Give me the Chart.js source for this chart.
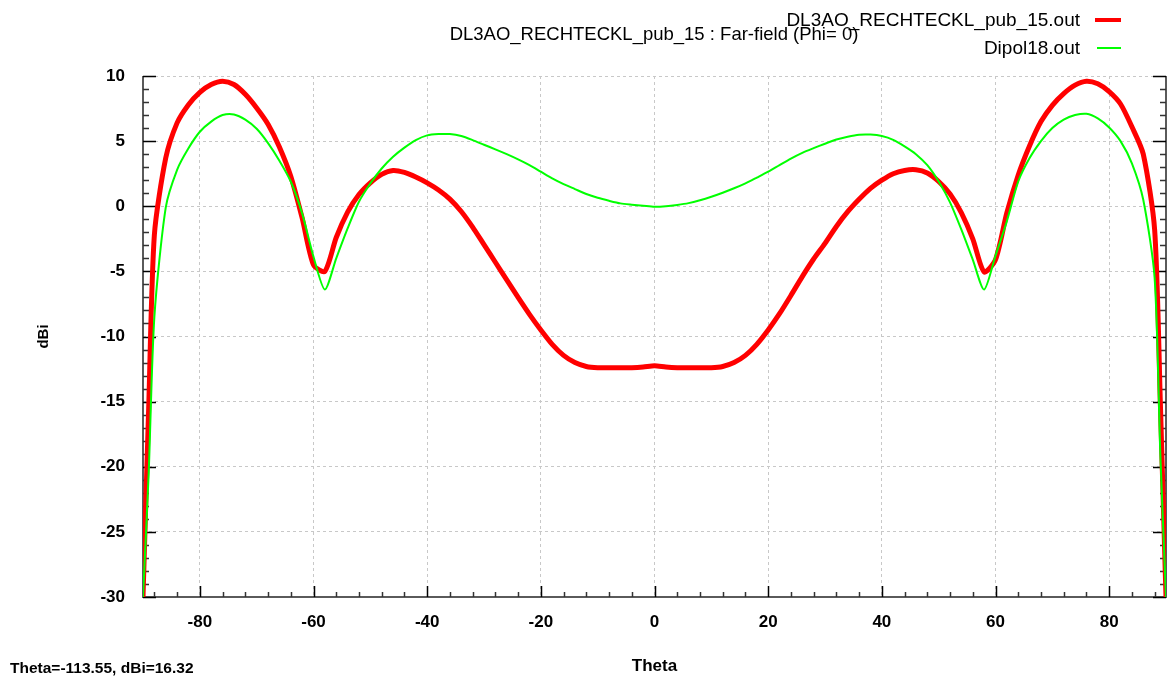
<!DOCTYPE html>
<html>
<head>
<meta charset="utf-8">
<title>Far-field (Phi= 0)</title>
<script src="https://cdn.jsdelivr.net/npm/chart.js@4.4.1/dist/chart.umd.min.js"></script>
<style>
    body { margin: 0; background: #fff; }
    #wrap { position: relative; width: 1167px; height: 677px; font-family: "Liberation Sans", Arial, sans-serif; color: #000; }
    #wrap canvas { position: absolute; left: 0; top: 0; }
    .txt { position: absolute; white-space: nowrap; line-height: 20px; }
    .sample { position: absolute; }
</style>
</head>
<body>
<div id="wrap">
    <canvas id="farfield-chart" width="1167" height="677"></canvas>
    <div class="txt" style="left:654px; top:24px; transform:translateX(-50%); font-size:18.5px;">DL3AO_RECHTECKL_pub_15 : Far-field (Phi= 0)</div>
    <div class="txt" style="right:87px; top:10px; font-size:19px;">DL3AO_RECHTECKL_pub_15.out</div>
    <div class="sample" style="left:1095px; top:18px; width:26px; height:4px; background:#ff0000;"></div>
    <div class="txt" style="right:87px; top:38px; font-size:19px;">Dipol18.out</div>
    <div class="sample" style="left:1097px; top:47px; width:24px; height:2px; background:#00ff00;"></div>
    <div class="txt" style="left:10px; top:658px; font-size:15.5px; font-weight:bold;">Theta=-113.55, dBi=16.32</div>
</div>
<script>
// angles (deg) and gains (dBi)
const theta = [
    -90, -89, -88, -86, -84, -82, -80, -78, -76, -74, -72, -70, -68, -66, -64, -62,
    -60, -58, -56, -54, -52, -50, -48, -46, -44, -42, -40, -38, -36, -34, -32, -30,
    -28, -26, -24, -22, -20, -18, -16, -14, -12, -10, -8, -6, -4, -2, 0,
    2, 4, 6, 8, 10, 12, 14, 16, 18, 20, 22, 24, 26, 28, 30, 32,
    34, 36, 38, 40, 42, 44, 46, 48, 50, 52, 54, 56, 58, 60, 62, 64,
    66, 68, 70, 72, 74, 76, 78, 80, 82, 84, 86, 88, 89, 90
];
const gainRechteck = [
    -30, -15.5, -2.2, 3.7, 6.4, 7.8, 8.75, 9.35, 9.6, 9.35, 8.6, 7.55, 6.3, 4.55, 2.3, -0.9,
    -4.5, -5.0, -2.4, -0.45, 0.9, 1.8, 2.45, 2.75, 2.6, 2.25, 1.8, 1.25, 0.55, -0.4, -1.6, -2.95,
    -4.3, -5.65, -7.0, -8.3, -9.5, -10.6, -11.45, -12.0, -12.3, -12.4, -12.4, -12.4, -12.4, -12.35, -12.25,
    -12.35, -12.4, -12.4, -12.4, -12.4, -12.3, -12.0, -11.45, -10.6, -9.5, -8.25, -6.85, -5.4, -4.05, -2.85, -1.55,
    -0.42, 0.53, 1.37, 2.0, 2.5, 2.75, 2.8, 2.55, 1.9, 0.95, -0.5, -2.5, -5.05, -4.1, -0.5, 2.4,
    4.65, 6.5, 7.75, 8.65, 9.3, 9.6, 9.4, 8.8, 7.85, 6.1, 4.0, -1.8, -15, -30
];
const gainDipol = [
    -30, -20.5, -8.5, -0.1, 2.8, 4.45, 5.72, 6.5, 7.0, 7.05, 6.65, 5.95, 4.85, 3.5, 1.9, -0.55,
    -3.88, -6.4, -4.0, -1.7, 0.35, 1.75, 2.9, 3.8, 4.5, 5.08, 5.44, 5.54, 5.54, 5.39, 5.08, 4.72,
    4.37, 4.0, 3.6, 3.16, 2.65, 2.14, 1.7, 1.32, 0.94, 0.65, 0.42, 0.22, 0.12, 0.04, -0.04,
    0.0, 0.1, 0.24, 0.46, 0.73, 1.04, 1.38, 1.76, 2.2, 2.65, 3.16, 3.66, 4.1, 4.46, 4.8, 5.12,
    5.34, 5.49, 5.5, 5.39, 5.1, 4.6, 4.0, 3.15, 1.9, 0.3, -1.8, -4.1, -6.4, -3.8, -1.15, 1.9,
    3.7, 5.0, 6.0, 6.65, 7.0, 7.1, 6.75, 6.05, 5.0, 3.3, 0.5, -5.5, -19, -30
];
const xTicks = [-80, -60, -40, -20, 0, 20, 40, 60, 80];
const yTicks = [-30, -25, -20, -15, -10, -5, 0, 5, 10];

const FONT = "'Liberation Sans', Arial, sans-serif";
Chart.defaults.font.family = FONT;

// axis lines + major/minor tick marks (gnuplot style, ticks pointing inwards)
const axisFrame = {
    id: 'axisFrame',
    beforeDatasetsDraw(chart) {
        const { ctx, chartArea: a, scales } = chart;
        const x = scales.x, y = scales.y;
        ctx.save();
        ctx.strokeStyle = '#5a5a5a';
        ctx.lineWidth = 2;
        ctx.beginPath();
        ctx.moveTo(a.left, a.top);
        ctx.lineTo(a.left, a.bottom);
        ctx.lineTo(a.right, a.bottom);
        ctx.lineTo(a.right, a.top);
        ctx.stroke();

        ctx.lineWidth = 1.5;
        for (let v = -30; v <= 10; v += 1) {
            const major = yTicks.includes(v);
            const py = Math.round(y.getPixelForValue(v)) + 0.5;
            const len = major ? 13 : 6;
            ctx.strokeStyle = major ? '#000' : '#333';
            ctx.beginPath();
            ctx.moveTo(a.left, py); ctx.lineTo(a.left + len, py);
            ctx.moveTo(a.right, py); ctx.lineTo(a.right - len, py);
            ctx.stroke();
        }
        for (let v = -88; v <= 88; v += 4) {
            const major = xTicks.includes(v);
            const px = Math.round(x.getPixelForValue(v)) + 0.5;
            const len = major ? 11 : 5;
            ctx.strokeStyle = major ? '#000' : '#333';
            ctx.beginPath();
            ctx.moveTo(px, a.bottom); ctx.lineTo(px, a.bottom - len);
            ctx.stroke();
        }
        ctx.restore();
    }
};

const ctx = document.getElementById('farfield-chart');
new Chart(ctx, {
    type: 'line',
    data: {
        datasets: [
            {
                label: 'DL3AO_RECHTECKL_pub_15.out',
                data: theta.map((t, i) => ({ x: t, y: gainRechteck[i] })),
                borderColor: '#ff0000',
                borderWidth: 5,
                order: 1
            },
            {
                label: 'Dipol18.out',
                data: theta.map((t, i) => ({ x: t, y: gainDipol[i] })),
                borderColor: '#00ff00',
                borderWidth: 2,
                order: 0
            }
        ]
    },
    options: {
        responsive: false,
        animation: false,
        devicePixelRatio: 1,
        elements: {
            point: { radius: 0 },
            line: { tension: 0.25, borderJoinStyle: 'round', borderCapStyle: 'round' }
        },
        layout: { padding: { top: 76, right: 1, bottom: 0, left: 0 } },
        plugins: {
            legend: { display: false },
            tooltip: { enabled: false },
            title: { display: false }
        },
        scales: {
            x: {
                type: 'linear',
                min: -90,
                max: 90,
                afterBuildTicks: function(scale) {
                    scale.ticks = xTicks.map(v => ({ value: v }));
                },
                afterFit: function(scale) {
                    scale.height = 80;
                },
                grid: { color: '#c8c8c8', lineWidth: 1, drawTicks: false },
                border: { display: false, dash: [3, 3] },
                ticks: {
                    padding: 15,
                    color: '#000',
                    maxRotation: 0,
                    autoSkip: false,
                    font: { size: 17, weight: 'bold' }
                },
                title: {
                    display: true,
                    text: 'Theta',
                    color: '#000',
                    font: { size: 17, weight: 'bold' },
                    padding: { top: 2, bottom: 0 }
                }
            },
            y: {
                type: 'linear',
                min: -30,
                max: 10,
                afterBuildTicks: function(scale) {
                    scale.ticks = yTicks.map(v => ({ value: v }));
                },
                afterFit: function(scale) {
                    scale.width = 143;
                },
                grid: { color: '#c8c8c8', lineWidth: 1, drawTicks: false },
                border: { display: false, dash: [3, 3] },
                ticks: {
                    padding: 18,
                    color: '#000',
                    font: { size: 17, weight: 'bold' }
                },
                title: {
                    display: true,
                    text: 'dBi',
                    color: '#000',
                    font: { size: 15, weight: 'bold' },
                    padding: { top: 35, bottom: 0 }
                }
            }
        }
    },
    plugins: [axisFrame]
});
</script>
</body>
</html>
